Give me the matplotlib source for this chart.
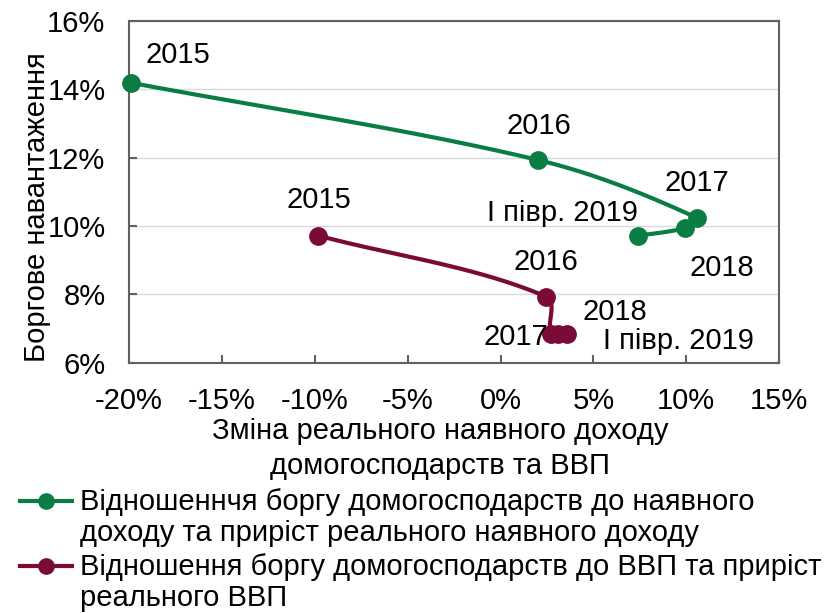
import matplotlib.pyplot as plt
import numpy as np
from matplotlib.lines import Line2D

plt.rcParams['font.family'] = ['Liberation Sans', 'DejaVu Sans']

# дані: зміна доходу (%) та боргове навантаження (%)
years_hh = ['2015', '2016', '2017', '2018', 'І півр. 2019']
income_change = [-19.9, 2.04, 10.57, 9.95, 7.43]
debt_to_income = [14.19, 11.93, 10.24, 9.95, 9.72]

years_gdp = ['2015', '2016', '2017', '2018', 'І півр. 2019']
gdp_change = [-9.8, 2.45, 2.7, 3.1, 3.6]
debt_to_gdp = [9.72, 7.94, 6.84, 6.84, 6.84]

legend_labels = [
    'Відношеннчя боргу домогосподарств до наявного\nдоходу та приріст реального наявного доходу',
    'Відношення боргу домогосподарств до ВВП та приріст\nреального ВВП',
]

green = '#0A7D44'
wine = '#7A0B36'

# зміщення підписів у пікселях
offs_hh = [(47, 28), (0, 34), (0, 35), (37, -40), (-76, 23)]
offs_gdp = [(0, 36), (0, 35), (-35, -3), (57, 22), (111, -7)]


def smooth(ax, xs, ys, n=40):
    # згладжена лінія (Безьє в екранних координатах, без перельоту на коротких відрізках)
    pts = ax.transData.transform(np.column_stack([xs, ys]))

    def unit(v):
        d = np.hypot(*v)
        return v / d if d > 0 else v

    out = []
    for i in range(len(pts) - 1):
        p0 = pts[i - 1] if i > 0 else pts[i]
        p1, p2 = pts[i], pts[i + 1]
        p3 = pts[i + 2] if i + 2 < len(pts) else pts[i + 1]
        L = np.hypot(*(p2 - p1)) / 3
        c1 = p1 + unit(p2 - p0) * L
        c2 = p2 - unit(p3 - p1) * L
        t = np.linspace(0, 1, n)[:, None]
        seg = (1 - t) ** 3 * p1 + 3 * (1 - t) ** 2 * t * c1 + 3 * (1 - t) * t ** 2 * c2 + t ** 3 * p2
        out.append(seg)
    out = np.vstack(out)
    return ax.transData.inverted().transform(out)


fig = plt.figure(figsize=(8.38, 6.13), dpi=100)
ax = fig.add_axes([0.154, 0.408, 0.7757, 0.558])
ax.set_xlim(-20, 15)
ax.set_ylim(6, 16)

for xs, ys, col, yrs, offs in [
    (income_change, debt_to_income, green, years_hh, offs_hh),
    (gdp_change, debt_to_gdp, wine, years_gdp, offs_gdp),
]:
    cur = smooth(ax, xs, ys)
    ax.plot(cur[:, 0], cur[:, 1], color=col, lw=3, zorder=3, clip_on=False)
    ax.plot(xs, ys, 'o', color=col, ms=12.5, zorder=4, clip_on=False)
    for x, y, lab, o in zip(xs, ys, yrs, offs):
        ax.annotate(lab, (x, y), xytext=o, textcoords='offset pixels',
                    ha='center', va='center', fontsize=21, zorder=5)

ax.set_xticks(np.arange(-20, 16, 5))
ax.set_xticklabels([f'{v}%' for v in range(-20, 16, 5)])
ax.set_yticks(np.arange(6, 17, 2))
ax.set_yticklabels([f'{v}%' for v in range(6, 17, 2)])
ax.tick_params(direction='in', length=6, width=1.5, color='#606060', labelsize=21)
ax.tick_params(axis='x', pad=17)
ax.tick_params(axis='y', pad=17)
ax.grid(axis='y', color='#D9D9D9', lw=1)
ax.set_axisbelow(True)
for s in ax.spines.values():
    s.set_color('#606060')
    s.set_linewidth(1.5)

ax.set_xlabel('Зміна реального наявного доходу\nдомогосподарств та ВВП', fontsize=21,
              linespacing=1.3)
ax.xaxis.set_label_coords(0.478, -0.159)
ax.set_ylabel('Боргове навантаження', fontsize=21)
ax.yaxis.set_label_coords(-0.12, 0.456)

# легенда внизу
for i, (col, lab) in enumerate(zip([green, wine], legend_labels)):
    yc = 1 - [501, 566][i] / 613
    fig.add_artist(Line2D([20 / 838, 72 / 838], [yc, yc], color=col, lw=3))
    fig.add_artist(Line2D([46 / 838], [yc], marker='o', color=col, ms=11))
    fig.text(80 / 838, yc + 13 / 613, lab, fontsize=21, va='top', ha='left', linespacing=1.12)

fig.savefig('out.png', dpi=100)
